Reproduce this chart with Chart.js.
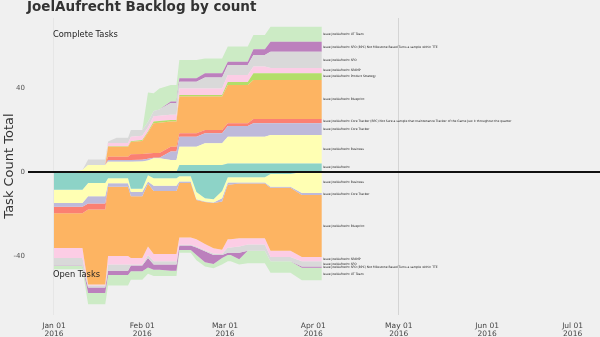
<!DOCTYPE html>
<html>
<head>
<meta charset="utf-8">
<script src="https://cdn.jsdelivr.net/npm/chart.js@4"></script>
<style>
  html, body { margin: 0; padding: 0; background: #f0f0f0; }
  canvas { display: block; }
</style>
</head>
<body>
<canvas id="backlog" width="600" height="337"></canvas>
<script>
// days since 2016-01-01
const days = [0, 3, 7, 10, 12, 16, 18, 19, 22, 26, 27, 31, 33, 35, 37, 41, 43, 44, 46, 48, 50, 53, 56, 59, 61, 62, 65, 68, 70, 74, 76, 80, 83, 87, 90, 94]

// complete tasks (stacked upward, bottom first)
const doneIssue     = [0, 0, 0,   0, 0,   0,   0,   0,   0,   0,   0,   0,   0,   0,   0,   0,   0,   3.3, 3.3, 3.3, 3.3, 3.3, 3.3, 3.3, 4.1, 4.1, 4.1, 4.1, 4.1, 4.1, 4.1, 4.1, 4.1, 4.1, 4.1, 4.1]
const doneBusiness  = [0, 0, 0.3, 1, 3.3, 3.3, 3.3, 4.9, 4.9, 4.9, 4.9, 5.0, 5.5, 6.5, 6.5, 5.7, 5.7, 8.7, 8.7, 8.7, 8.7, 10.4, 10.4, 10.4, 12.7, 12.7, 12.7, 12.7, 12.7, 12.7, 13.5, 13.5, 13.5, 13.5, 13.5, 13.5]
const doneCore      = [0, 0, 0,   0, 0,   0,   0,   0.8, 0.8, 0.8, 0.8, 0.8, 0.8, 0.3, 0.3, 4,   4,   4.8, 4.8, 4.8, 4.8, 4.7, 4.7, 4.7, 5.1, 5.1, 5.1, 5.1, 6.4, 6.4, 5.6, 5.6, 5.6, 5.6, 5.6, 5.6]
const doneCoreBpc   = [0, 0, 0,   0, 0,   0,   0,   1.6, 1.6, 1.6, 2.8, 2.8, 2.5, 2.2, 2.2, 2.3, 2.3, 1.6, 1.6, 1.6, 1.6, 1.6, 1.6, 1.6, 1.3, 1.3, 1.3, 1.3, 2,   2,   2,   2,   2,   2,   2,   2]
const doneBlueprint = [0, 0, 0,   0, 0,   0,   0,   4.7, 4.7, 4.7, 5.8, 6.2, 10,  14.2, 14.5, 12, 12, 17.5, 17.5, 17.5, 17.5, 15.9, 15.9, 15.9, 18.2, 18.2, 18.2, 18.2, 18.6, 18.6, 18.6, 18.6, 18.6, 18.6, 18.6, 18.6]
const doneStrategy  = [0, 0, 0,   0, 0,   0,   0,   0.3, 0.3, 0.3, 0.3, 0.4, 0.5, 0.8, 0.8, 0.7, 0.7, 0.8, 0.8, 0.8, 0.8, 0.8, 0.8, 0.8, 1.5, 1.5, 1.5, 1.5, 3.2, 3.2, 3.2, 3.2, 3.2, 3.2, 3.2, 3.2]
const doneSpamp     = [0, 0, 0,   0, 0,   0,   0,   1.5, 1.5, 1.5, 2.2, 2.0, 2,   2.5, 2.5, 2.6, 2.6, 3.1, 3.1, 3.1, 3.1, 3.1, 3.1, 3.1, 3.3, 3.3, 3.3, 3.3, 3.2, 3.2, 2.5, 2.5, 2.5, 2.5, 2.5, 2.5]
const doneSfo       = [0, 0, 0,   0, 2.7, 2.7, 2.7, 0.7, 2.5, 2.5, 3.2, 2.8, 2.5, 2.5, 3,   5.5, 5.5, 3.2, 3.2, 3.2, 3.2, 5.2, 5.2, 5.2, 4.8, 4.8, 4.8, 4.8, 5.5, 5.5, 7.8, 7.8, 7.8, 7.8, 7.8, 7.8]
const doneSfoBpc    = [0, 0, 0,   0, 0,   0,   0,   0,   0,   0,   0,   0,   0,   0,   0,   0.8, 0.8, 1.6, 1.6, 1.6, 1.6, 2,   2,   2,   1.5, 1.5, 1.5, 1.5, 2.7, 2.7, 4.7, 4.7, 4.7, 4.7, 4.7, 4.7]
const doneUtTeam    = [0, 0, 0,   0, 0,   0,   0,   0,   0,   0,   0,   0,   14,  8.5, 10,  7.8, 7.8, 8.7, 8.7, 8.7, 8.7, 7,   7,   7,   7.2, 7.2, 7.2, 7.2, 6.8, 6.8, 7.2, 7.2, 7.2, 7.2, 7.2, 7.2]

// open tasks (stacked downward, top first)
const openIssue     = [-8.5, -8.5, -8.5, -8.5, -5.2, -5.2, -5.2, -3, -3, -3, -8, -8, -1.5, -3, -3, -3, -3, -2, -2, -2, -9.5, -12.5, -13, -9, -2.5, -2.5, -2.5, -2.5, -2.5, -2.5, -1, -1, -1, 0, 0, 0]
const openBusiness  = [-6.3, -6.3, -6.3, -6.3, -6.4, -6.4, -6.4, -2.4, -2.4, -2.4, -1.5, -1.5, -3, -3.5, -3.5, -3.5, -3.5, -2.5, -2.5, -2.5, -3.5, -1.5, -1.5, -3.5, -2.5, -2.5, -2.5, -2.5, -2.5, -2.5, -6, -6, -6, -10, -10, -10]
const openCore      = [-1.7, -1.7, -1.7, -1.7, -3.4, -3.4, -3.4, -1.6, -1.6, -1.6, -2, -2, -1, -2.5, -2.5, -2.5, -2.5, -0.7, -0.7, -0.7, -0.3, -0.3, -0.3, -1.5, -1, -1, -0.5, -0.5, -0.5, -0.5, -0.5, -0.5, -0.5, -1, -1, -1]
const openCoreBpc   = [-3.2, -3.2, -3.2, -3.2, -2.9, -2.9, -2.9, 0, 0, 0, 0, 0, 0, 0, 0, 0, 0, 0, 0, 0, 0, 0, 0, 0, 0, 0, 0, 0, 0, 0, 0, 0, 0, 0, 0, 0]
const openBlueprint = [-16.5, -16.5, -16.5, -16.5, -35.7, -35.7, -35.7, -33, -33, -33, -29.5, -29.5, -30, -30, -30, -30, -30, -26, -26, -26, -18.7, -20, -21.5, -23, -26, -26, -26, -26, -26, -26, -30, -30, -30, -29.5, -29.5, -29.5]
const openSpamp     = [-4.8, -4.8, -4.8, -4.8, -0.5, -0.5, -0.5, -4, -4, -4, -3, -3, -4, -3.5, -3.5, -3.5, -3.5, -3.5, -3.5, -3.5, -3.5, -3, -2.5, -2, -4, -4, -4, -3, -3, -3, -3, -3, -3, -2, -2, -2]
const openSfo       = [-3.5, -3.5, -3.5, -3.5, -0.9, -0.9, -0.9, -3, -3, -3, -0.5, -0.5, -1.5, -1.5, -1.5, -1.5, -1.5, -0.3, -0.3, -0.3, -0.5, -0.5, -0.7, -0.5, -2.5, -2.5, -3, -3, -3, -3, -2, -2, -2, -2.5, -2.5, -2.5]
const openSfoBpc    = [-0.3, -0.3, -0.3, -0.3, -2.6, -2.6, -2.6, -2, -2, -2, -2.8, -2.8, -4.5, -2.5, -2.5, -3, -3, -2.2, -2.2, -2.2, -3.5, -5.2, -4.3, -1.5, -1, -1, -3, 0, 0, 0, 0, 0, 0, -0.6, -0.6, -0.6]
const openUtTeam    = [-1.5, -1.5, -1.5, -1.5, -5.4, -5.4, -5.4, -5, -5, -5, -4, -4, -3, -3, -3, -2.5, -2.5, -1.3, -1.3, -1.3, -2.5, -2, -2, -3, -3, -3, -2.5, -6, -6, -6, -5.5, -5.5, -5.5, -6, -6, -6]

const tickDays = [0, 31, 60, 91, 121, 152, 182]
const tickLabels = [["Jan 01", "2016"], ["Feb 01", "2016"], ["Mar 01", "2016"], ["Apr 01", "2016"], ["May 01", "2016"], ["Jun 01", "2016"], ["Jul 01", "2016"]]

const sfoBpcName = "Issue JoelAufrecht SFO (BPC) Not Milestone Based Turns a sample within TTE"
const coreBpcName = "Issue JoelAufrecht Core Tracker (BPC) Not Sure a sample that maintenance Tracker of the Game Just it throughout the quarter"

const doneSeries = [
    { name: "Issue JoelAufrecht", values: doneIssue, color: "#8dd3c7" },
    { name: "Issue JoelAufrecht Business", values: doneBusiness, color: "#ffffb3" },
    { name: "Issue JoelAufrecht Core Tracker", values: doneCore, color: "#bebada" },
    { name: coreBpcName, values: doneCoreBpc, color: "#fb8072" },
    { name: "Issue JoelAufrecht Blueprint", values: doneBlueprint, color: "#fdb462" },
    { name: "Issue JoelAufrecht Product Strategy", values: doneStrategy, color: "#b3de69" },
    { name: "Issue JoelAufrecht SPAMP", values: doneSpamp, color: "#fccde5" },
    { name: "Issue JoelAufrecht SFO", values: doneSfo, color: "#d9d9d9" },
    { name: sfoBpcName, values: doneSfoBpc, color: "#bc80bd" },
    { name: "Issue JoelAufrecht UT Team", values: doneUtTeam, color: "#ccebc5" }
]
const openSeries = [
    { name: "Issue JoelAufrecht", values: openIssue, color: "#8dd3c7" },
    { name: "Issue JoelAufrecht Business", values: openBusiness, color: "#ffffb3" },
    { name: "Issue JoelAufrecht Core Tracker", values: openCore, color: "#bebada" },
    { name: coreBpcName, values: openCoreBpc, color: "#fb8072" },
    { name: "Issue JoelAufrecht Blueprint", values: openBlueprint, color: "#fdb462" },
    { name: "Issue JoelAufrecht SPAMP", values: openSpamp, color: "#fccde5" },
    { name: "Issue JoelAufrecht SFO", values: openSfo, color: "#d9d9d9" },
    { name: sfoBpcName, values: openSfoBpc, color: "#bc80bd" },
    { name: "Issue JoelAufrecht UT Team", values: openUtTeam, color: "#ccebc5" }
]

function toDataset(s, i, stack) {
    return {
        label: s.name,
        data: days.map((d, k) => ({ x: d, y: s.values[k] })),
        stack,
        fill: i === 0 ? "origin" : "-1",
        backgroundColor: s.color,
        borderColor: "transparent",
        borderWidth: 0,
        pointRadius: 0,
        tension: 0
    }
}

const datasets = [
    ...doneSeries.map((s, i) => toDataset(s, i, "done")),
    ...openSeries.map((s, i) => toDataset(s, i, "open"))
]

const FONT = "'DejaVu Sans'"
Chart.defaults.font.family = FONT

// text and zero line drawn on top of the areas
const overlay = {
    id: "overlay",
    afterDatasetsDraw(chart) {
        const { ctx, chartArea, scales: { x, y } } = chart
        ctx.save()
        const y0 = y.getPixelForValue(0)
        ctx.strokeStyle = "#111"
        ctx.lineWidth = 2
        ctx.beginPath()
        ctx.moveTo(chartArea.left, y0)
        ctx.lineTo(chartArea.right, y0)
        ctx.stroke()

        // series names at the end of each band
        const last = days.length - 1
        const lx = x.getPixelForValue(days[last]) + 1
        ctx.font = "3px " + FONT
        ctx.fillStyle = "#222"
        ctx.textBaseline = "middle"
        ctx.textAlign = "left"
        let acc = 0
        doneSeries.forEach(s => {
            const v = s.values[last]
            if (v !== 0) ctx.fillText(s.name, lx, y.getPixelForValue(acc + v / 2))
            acc += v
        })
        acc = 0
        openSeries.forEach(s => {
            const v = s.values[last]
            if (v !== 0) ctx.fillText(s.name, lx, y.getPixelForValue(acc + v / 2))
            acc += v
        })

        ctx.textBaseline = "alphabetic"
        ctx.fillStyle = "#333"
        ctx.font = "bold 13.5px " + FONT
        ctx.fillText("JoelAufrecht Backlog by count", 27, 11)

        ctx.fillStyle = "#222"
        ctx.font = "8.3px " + FONT
        ctx.fillText("Complete Tasks", 53, 37)
        ctx.fillText("Open Tasks", 53, 277)

        ctx.fillStyle = "#333"
        ctx.font = "13px " + FONT
        ctx.translate(13.3, 166)
        ctx.rotate(-Math.PI / 2)
        ctx.textAlign = "center"
        ctx.fillText("Task Count Total", 0, 0)
        ctx.restore()
    }
}

new Chart(document.getElementById("backlog").getContext("2d"), {
    type: "line",
    data: { datasets },
    plugins: [overlay],
    options: {
        responsive: false,
        animation: false,
        devicePixelRatio: 1,
        layout: { padding: { top: 18, left: 0, right: 0, bottom: 0 } },
        plugins: { legend: { display: false }, title: { display: false }, tooltip: { enabled: false } },
        scales: {
            x: {
                type: "linear",
                min: -9.1,
                max: 191.6,
                afterBuildTicks: scale => { scale.ticks = tickDays.map(v => ({ value: v })) },
                afterFit: scale => { scale.height = 22 },
                ticks: {
                    autoSkip: false,
                    maxRotation: 0,
                    padding: 7,
                    color: "#444",
                    font: { size: 7.5, lineHeight: 1.1 },
                    callback: (v, i) => tickLabels[i]
                },
                grid: {
                    drawTicks: false,
                    color: c => c.tick && c.tick.value === 121 ? "#d4d4d4" : (c.tick && c.tick.value === 0 ? "#e6e6e6" : "transparent")
                },
                border: { display: false }
            },
            y: {
                stacked: true,
                min: -68.1,
                max: 73.33,
                afterBuildTicks: scale => { scale.ticks = [-40, 0, 40].map(v => ({ value: v })) },
                afterFit: scale => { scale.width = 28 },
                ticks: { color: "#555", font: { size: 7 }, padding: 3 },
                grid: { display: false, drawTicks: false },
                border: { display: false }
            }
        }
    }
})
</script>
</body>
</html>
